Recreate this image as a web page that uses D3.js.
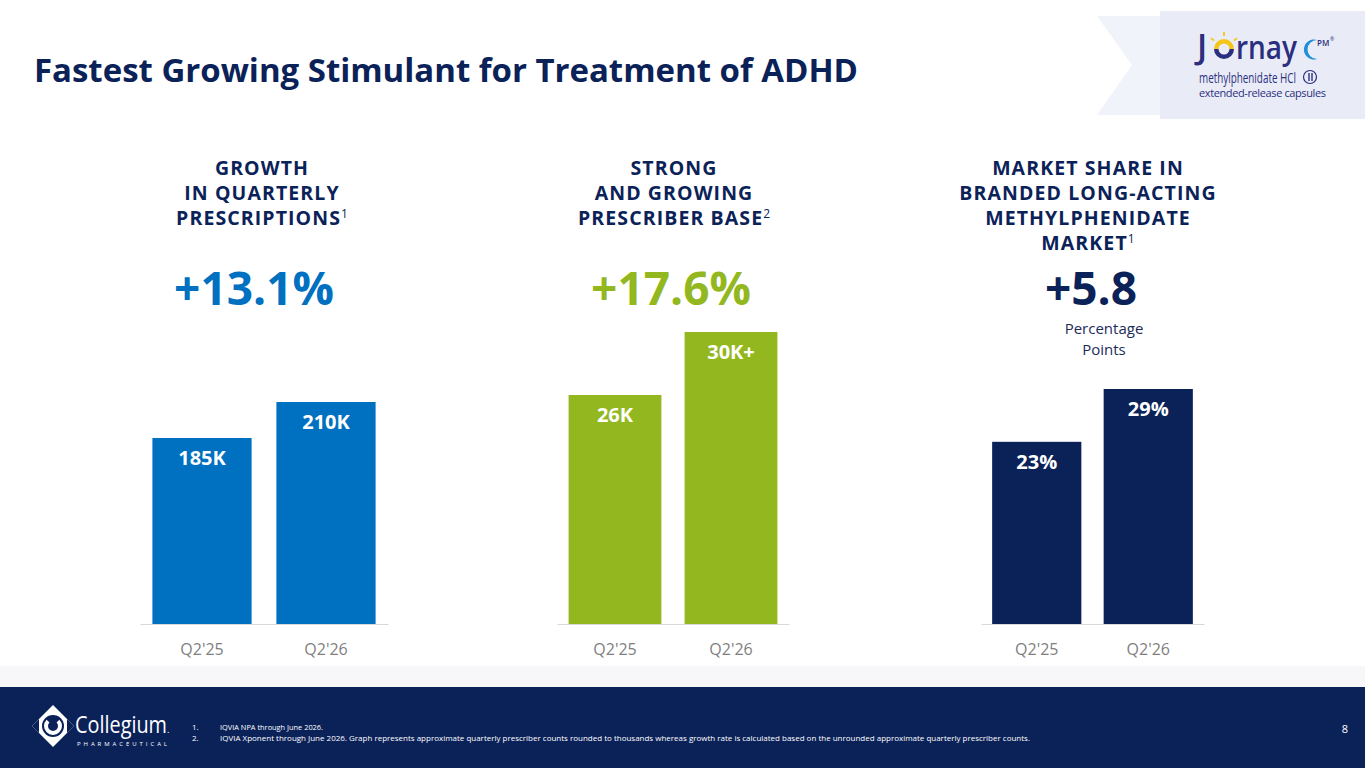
<!DOCTYPE html>
<html lang="en">
<head>
<meta charset="utf-8">
<script src="https://cdn.jsdelivr.net/npm/d3@7"></script>
<style>
    body { margin: 0; background: #ffffff; }
    svg { display: block; font-family: 'Open Sans', 'Noto Sans', sans-serif; }
</style>
</head>
<body>
<svg id="slide" width="1365" height="768"></svg>
<script>
    // data
    const quarters = ["Q2'25", "Q2'26"];

    const rxValues = [185, 210];             // quarterly prescriptions (K)
    const rxLabels = ["185K", "210K"];
    const prescriberValues = [26, 30];       // prescriber base (K)
    const prescriberLabels = ["26K", "30K+"];
    const shareValues = [23, 29];            // market share (%)
    const shareLabels = ["23%", "29%"];

    const headers = [
        ["GROWTH", "IN QUARTERLY", "PRESCRIPTIONS"],
        ["STRONG", "AND GROWING", "PRESCRIBER BASE"],
        ["MARKET SHARE IN", "BRANDED LONG-ACTING", "METHYLPHENIDATE", "MARKET"]
    ];
    const headerNotes = ["1", "2", "1"];
    const growthLabels = ["+13.1%", "+17.6%", "+5.8"];
    const growthNote = ["Percentage", "Points"];

    const footnotes = [
        "IQVIA NPA through June 2026.",
        "IQVIA Xponent through June 2026. Graph represents approximate quarterly prescriber counts rounded to thousands whereas growth rate is calculated based on the unrounded approximate quarterly prescriber counts."
    ];

    const navy = "#0b2259";
    const baseY = 624;

    // layout of the three panels (axis floor chosen so bar heights match the slide)
    const panels = [
        { values: rxValues, labels: rxLabels, color: "#0070c0", x0: 140, x1: 388, floor: 55.8, topY: 402, hx: 262, gx: 254 },
        { values: prescriberValues, labels: prescriberLabels, color: "#93b81f", x0: 557, x1: 789, floor: 11.46, topY: 332, hx: 674, gx: 671 },
        { values: shareValues, labels: shareLabels, color: navy, x0: 981, x1: 1204, floor: 2.3, topY: 389, hx: 1088, gx: 1091 }
    ];

    const svg = d3.select("#slide");

    // title
    svg.append("text")
        .attr("x", 34).attr("y", 82)
        .attr("fill", navy)
        .attr("font-size", 32).attr("font-weight", 700)
        .attr("textLength", 824).attr("lengthAdjust", "spacingAndGlyphs")
        .text("Fastest Growing Stimulant for Treatment of ADHD");

    // ---- Jornay ribbon (top right)
    svg.append("path")
        .attr("d", "M1097,16 L1160,16 L1160,115 L1097,115 L1132,65 Z")
        .attr("fill", "#f1f3fa");
    svg.append("rect")
        .attr("x", 1160).attr("y", 11).attr("width", 205).attr("height", 108)
        .attr("fill", "#e9ecf7");

    const ink = "#2b2f7e";
    const logo = svg.append("g");
    logo.append("text")
        .attr("x", 1197).attr("y", 59)
        .attr("fill", ink).attr("font-size", 34).attr("font-weight", 600)
        .text("J");
    // the "o" as a sun: navy lower half, yellow upper arc with rays
    const sun = logo.append("g").attr("transform", "translate(1224,49)");
    sun.append("path").attr("d", d3.arc()({ innerRadius: 5.5, outerRadius: 10, startAngle: Math.PI / 2, endAngle: 3 * Math.PI / 2 }))
        .attr("fill", ink);
    sun.append("path").attr("d", d3.arc()({ innerRadius: 5.5, outerRadius: 10, startAngle: -Math.PI / 2, endAngle: Math.PI / 2 }))
        .attr("fill", "#f5c518");
    [-50, 0, 50].forEach(a => {
        const r = a * Math.PI / 180;
        sun.append("line")
            .attr("x1", 13 * Math.sin(r)).attr("y1", -13 * Math.cos(r))
            .attr("x2", 17 * Math.sin(r)).attr("y2", -17 * Math.cos(r))
            .attr("stroke", "#f5c518").attr("stroke-width", 1.8);
    });
    logo.append("text")
        .attr("x", 1236).attr("y", 59)
        .attr("fill", ink).attr("font-size", 32).attr("font-weight", 600)
        .attr("textLength", 61).attr("lengthAdjust", "spacingAndGlyphs")
        .text("rnay");
    // crescent moon
    logo.append("path")
        .attr("d", "M1317,40 A10,10 0 1,0 1317,59 A8,8 0 1,1 1317,40 Z")
        .attr("fill", "#1f8fd8");
    logo.append("text")
        .attr("x", 1317).attr("y", 46)
        .attr("fill", ink).attr("font-size", 8).attr("font-weight", 600)
        .text("PM");
    logo.append("text")
        .attr("x", 1330).attr("y", 41)
        .attr("fill", ink).attr("font-size", 5)
        .text("®");
    logo.append("text")
        .attr("x", 1199).attr("y", 83)
        .attr("fill", ink).attr("font-size", 14)
        .attr("textLength", 97).attr("lengthAdjust", "spacingAndGlyphs")
        .text("methylphenidate HCl");
    logo.append("circle")
        .attr("cx", 1310).attr("cy", 77).attr("r", 6.5)
        .attr("fill", "none").attr("stroke", ink).attr("stroke-width", 1.2);
    logo.append("path")
        .attr("d", "M1309,73 L1309,81 M1312,73 L1312,81")
        .attr("stroke", ink).attr("stroke-width", 1.4);
    logo.append("text")
        .attr("x", 1199).attr("y", 97)
        .attr("fill", ink).attr("font-size", 11)
        .attr("textLength", 127).attr("lengthAdjust", "spacing")
        .text("extended-release capsules");

    // ---- panels
    panels.forEach((p, i) => {
        const g = svg.append("g");

        const x = d3.scaleBand()
            .domain(quarters)
            .range([p.x0, p.x1])
            .paddingInner(0.2)
            .paddingOuter(0.1);

        const y = d3.scaleLinear()
            .domain([p.floor, d3.max(p.values)])
            .range([baseY, p.topY]);

        // header lines
        const head = g.append("text")
            .attr("text-anchor", "middle")
            .attr("fill", navy)
            .attr("font-size", 19.5).attr("font-weight", 700)
            .attr("letter-spacing", 1.1);
        headers[i].forEach((line, j) => {
            head.append("tspan")
                .attr("x", p.hx).attr("y", 175 + j * 25)
                .text(line);
            if (j === headers[i].length - 1) {
                head.append("tspan")
                    .attr("dy", -7)
                    .attr("font-size", 12).attr("font-weight", 400)
                    .attr("letter-spacing", 0)
                    .text(headerNotes[i]);
            }
        });

        // growth number
        g.append("text")
            .attr("x", p.gx).attr("y", 305)
            .attr("text-anchor", "middle")
            .attr("fill", p.color)
            .attr("font-size", 46).attr("font-weight", 700)
            .text(growthLabels[i]);

        // bars
        g.selectAll("rect.bar")
            .data(p.values)
            .join("rect")
            .attr("class", "bar")
            .attr("x", (d, k) => x(quarters[k]))
            .attr("y", d => y(d))
            .attr("width", x.bandwidth())
            .attr("height", d => baseY - y(d))
            .attr("fill", p.color);

        g.selectAll("text.val")
            .data(p.values)
            .join("text")
            .attr("class", "val")
            .attr("x", (d, k) => x(quarters[k]) + x.bandwidth() / 2)
            .attr("y", d => y(d) + 27)
            .attr("text-anchor", "middle")
            .attr("fill", "#ffffff")
            .attr("font-size", 20).attr("font-weight", 700)
            .text((d, k) => p.labels[k]);

        // axis
        const axis = g.append("g")
            .attr("transform", `translate(0,${baseY})`)
            .call(d3.axisBottom(x).tickSize(0).tickPadding(20).tickSizeOuter(0));
        axis.select(".domain").attr("stroke", "#d9d9d9").attr("stroke-width", 1.2);
        axis.selectAll(".tick text")
            .attr("fill", "#7f7f7f")
            .attr("font-size", 16)
            .attr("font-family", "'Open Sans', sans-serif");
    });

    // "Percentage Points" under +5.8
    svg.selectAll("text.note")
        .data(growthNote)
        .join("text")
        .attr("class", "note")
        .attr("text-anchor", "middle")
        .attr("fill", "#1c2b5b")
        .attr("font-size", 15)
        .attr("x", 1104)
        .attr("y", (d, k) => 334 + k * 21)
        .text(d => d);

    // ---- footer
    svg.append("rect")
        .attr("x", 0).attr("y", 666).attr("width", 1365).attr("height", 21)
        .attr("fill", "#f7f7f9");
    svg.append("rect")
        .attr("x", 0).attr("y", 687).attr("width", 1365).attr("height", 81)
        .attr("fill", navy);

    // Collegium mark
    const mark = svg.append("g").attr("transform", "translate(53,726)");
    mark.append("path")
        .attr("d", "M0,-21 L21,0 L0,21 L-21,0 Z")
        .attr("fill", "#ffffff");
    mark.append("circle").attr("r", 11).attr("fill", navy);
    mark.append("path")
        .attr("d", d3.arc()({ innerRadius: 5, outerRadius: 9, startAngle: Math.PI * 0.25, endAngle: Math.PI * 1.75 }))
        .attr("fill", "#ffffff");
    mark.append("path")
        .attr("d", "M-21,0 L-14,-7 L-14,7 Z M21,0 L14,-7 L14,7 Z")
        .attr("fill", navy);

    svg.append("text")
        .attr("x", 75).attr("y", 733)
        .attr("fill", "#ffffff")
        .attr("font-size", 24)
        .attr("textLength", 92).attr("lengthAdjust", "spacingAndGlyphs")
        .text("Collegium");
    svg.append("text")
        .attr("x", 167).attr("y", 733)
        .attr("fill", "#ffffff").attr("font-size", 9)
        .text(".");
    svg.append("text")
        .attr("x", 77).attr("y", 746)
        .attr("fill", "#ffffff").attr("font-size", 6)
        .attr("textLength", 90).attr("lengthAdjust", "spacing")
        .text("PHARMACEUTICAL");

    const notes = svg.append("g")
        .attr("fill", "#ffffff")
        .attr("font-size", 8);
    footnotes.forEach((t, k) => {
        notes.append("text").attr("x", 192).attr("y", 730 + k * 10.5).text((k + 1) + ".");
        notes.append("text").attr("x", 220).attr("y", 730 + k * 10.5)
            .attr("textLength", k === 0 ? 103 : 810).attr("lengthAdjust", "spacingAndGlyphs")
            .text(t);
    });

    svg.append("text")
        .attr("x", 1345).attr("y", 733)
        .attr("text-anchor", "middle")
        .attr("fill", "#ffffff").attr("font-size", 11)
        .text("8");
</script>
</body>
</html>
